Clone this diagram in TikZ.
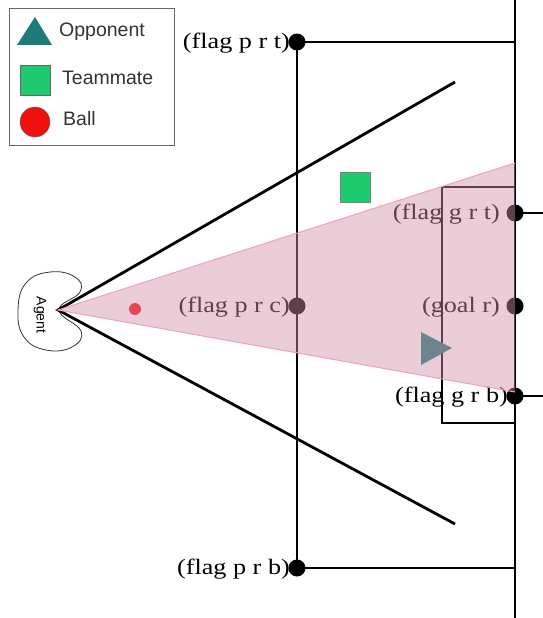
\documentclass[tikz,border=0pt]{standalone}
\usepackage{fontspec}
\setmainfont{Liberation Serif}
\setsansfont{Liberation Sans}
\definecolor{oppc}{HTML}{1E7B7B}
\definecolor{teamc}{HTML}{1DCB6E}
\definecolor{ballc}{HTML}{F01010}
\definecolor{conec}{RGB}{208,144,164}
\definecolor{coneline}{HTML}{F0A0B8}
\newcommand{\flagtxt}[1]{\scalebox{1.19}[1]{#1}}
\begin{document}
\begin{tikzpicture}[x=1pt,y=-1pt,
  thinline/.style={line width=1.2pt,black},
  viewline/.style={line width=2.8pt,black},
  flagdot/.style={circle,fill=black,inner sep=0pt,minimum size=17pt},
  flaglabel/.style={font=\fontsize{22}{24}\selectfont,inner sep=0pt,anchor=east},
  legtext/.style={font=\sffamily\fontsize{19.5}{21}\selectfont,anchor=west,inner sep=0pt,text=black!80}]
\useasboundingbox (0,0) rectangle (543,618);
% legend
\node[draw=black!60,line width=0.8pt,minimum width=165pt,minimum height=137pt,inner sep=0pt] (legend) at (91.5,76.5) {};
\fill[oppc] (17,45) -- (35,17) -- (52,45) -- cycle;
\node[legtext] (lopp) at (59,32) {Opponent};
\node[draw=black!60,fill=teamc,minimum size=30pt,inner sep=0pt] (lteam) at (35,80) {};
\node[legtext] (lteamt) at (62,78) {Teammate};
\node[circle,draw=black!60,fill=ballc,minimum size=30pt,inner sep=0pt] (lball) at (35,122) {};
\node[legtext] (lballt) at (63,119) {Ball};
% field lines
\coordinate (rtop) at (515,0);
\coordinate (rbot) at (515,618);
\node[flagdot] (prt) at (297,42) {};
\node[flagdot] (prb) at (297,568) {};
\node[flagdot] (prc) at (297,306) {};
\node[flagdot] (grt) at (515,213) {};
\node[flagdot] (gr) at (515,306) {};
\node[flagdot] (grb) at (515,396) {};
\coordinate (prtR) at (515,42);
\coordinate (prbR) at (515,568);
\coordinate (grtE) at (543,213);
\coordinate (grbE) at (543,396);
\draw[thinline] (rtop) -- (rbot);
\draw[thinline] (prt.center) -- (prb.center);
\draw[thinline] (prt.center) -- (prtR);
\draw[thinline] (prb.center) -- (prbR);
\draw[thinline] (grt.center) -- (grtE);
\draw[thinline] (grb.center) -- (grbE);
\draw[thinline] (515,187) -- (442,187) -- (442,423) -- (515,423);
% labels
\node[flaglabel] (lprt) at (290,43) {\flagtxt{(flag p r t)}};
\node[flaglabel] (lprb) at (290,569) {\flagtxt{(flag p r b)}};
\node[flaglabel] (lprc) at (290,307) {\flagtxt{(flag p r c)}};
\node[flaglabel] (lgrt) at (500,214) {\flagtxt{(flag g r t)}};
\node[flaglabel] (lgr) at (500,307) {\flagtxt{(goal r)}};
\node[flaglabel] (lgrb) at (508,397) {\flagtxt{(flag g r b)}};
% agent
\coordinate (eye) at (58,310);
\draw[line width=0.8pt,black!80] plot[smooth cycle,tension=0.75] coordinates {(59,310) (80,292) (75,277) (50,272) (26,283) (18,310) (24,337) (46,350) (72,347) (81,331)};
\node[rotate=-90,font=\sffamily\fontsize{14}{14}\selectfont] (agent) at (40,315) {Agent};
\coordinate (vtop) at (455,82);
\coordinate (vbot) at (455,524);
\draw[viewline] (vtop) -- (eye) -- (vbot);
% objects
\node[draw=black!50,fill=teamc,minimum size=30pt,inner sep=0pt] (team) at (355,187) {};
\fill[oppc] (421,332) -- (452,348) -- (421,365) -- cycle;
\fill[ballc] (135,309) circle (6);
% cone overlay
\coordinate (ctop) at (515,163);
\coordinate (cbot) at (515,392);
\fill[conec,fill opacity=0.45] (eye) -- (ctop) -- (cbot) -- cycle;
\draw[coneline,line width=1pt] (ctop) -- (eye) -- (cbot);
\end{tikzpicture}
\end{document}
